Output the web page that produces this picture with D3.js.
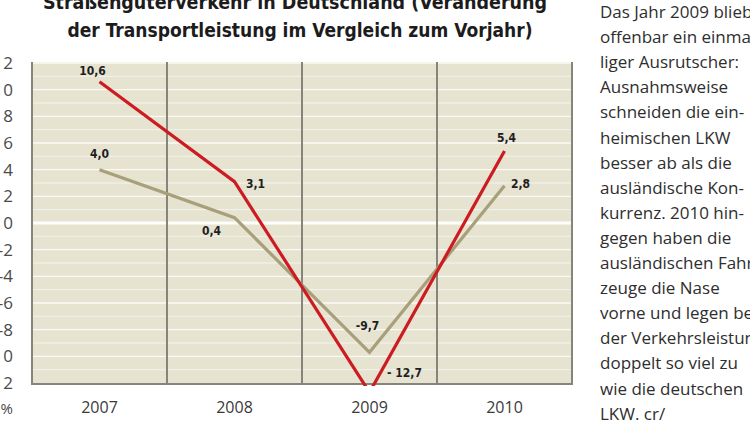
<!DOCTYPE html>
<html>
<head>
<meta charset="utf-8">
<script src="https://cdn.jsdelivr.net/npm/d3@7"></script>
<style>
    body { margin: 0; background: #fff; }
    svg { display: block; }
</style>
</head>
<body>
<svg width="750" height="422"></svg>
<script>
// Chart data.
var years = ["2007", "2008", "2009", "2010"];
var auslaendisch = [10.6, 3.1, -12.7, 5.4];
var deutsch = [4.0, 0.4, -9.7, 2.8];
var yTicks = [12, 10, 8, 6, 4, 2, 0, -2, -4, -6, -8, -10, -12];

var titleLines = [
    "Straßengüterverkehr in Deutschland (Veränderung",
    "der Transportleistung im Vergleich zum Vorjahr)"
];

var sideText = [
    "Das Jahr 2009 blieb",
    "offenbar ein einma-",
    "liger Ausrutscher:",
    "Ausnahmsweise",
    "schneiden die ein-",
    "heimischen LKW",
    "besser ab als die",
    "ausländische Kon-",
    "kurrenz. 2010 hin-",
    "gegen haben die",
    "ausländischen Fahr-",
    "zeuge die Nase",
    "vorne und legen bei",
    "der Verkehrsleistung",
    "doppelt so viel zu",
    "wie die deutschen",
    "LKW. cr/"
];

var svg = d3.select("svg");
// Note: "top" is a read-only window property, so use other names.
var plotLeft = 32, plotRight = 572, plotTop = 62, plotBottom = 384;

var x = d3.scaleBand().domain(years).range([plotLeft, plotRight]).padding(0);
var y = d3.scaleLinear().domain([-12, 12]).range([383, 63]);

function fmt(v, gap) {
    return (v < 0 ? "-" + gap : "") + Math.abs(v).toFixed(1).replace(".", ",");
}

// Plot background.
svg.append("rect")
    .attr("x", plotLeft).attr("y", plotTop)
    .attr("width", plotRight - plotLeft).attr("height", plotBottom - plotTop)
    .attr("fill", "#e6e3d1");

// White grid lines, one per unit, even ones a bit stronger.
svg.append("g").selectAll("line")
    .data(d3.range(-11, 13))
    .join("line")
    .attr("x1", plotLeft).attr("x2", plotRight)
    .attr("y1", function(d) { return y(d); })
    .attr("y2", function(d) { return y(d); })
    .attr("stroke", "#fff")
    .attr("stroke-opacity", function(d) { return d == 0 ? 0.95 : (d % 2 == 0 ? 0.8 : 0.45); })
    .attr("stroke-width", function(d) { return d == 0 ? 3 : 1.3; });

// Column separators and frame.
var edges = years.map(function(d) { return x(d); }).concat([plotRight]);
svg.append("g").selectAll("line")
    .data(edges)
    .join("line")
    .attr("x1", function(d) { return d; }).attr("x2", function(d) { return d; })
    .attr("y1", plotTop).attr("y2", plotBottom)
    .attr("stroke", "#85857a")
    .attr("stroke-width", 2);

svg.append("line")
    .attr("x1", plotLeft - 1).attr("x2", plotRight + 1)
    .attr("y1", plotBottom).attr("y2", plotBottom)
    .attr("stroke", "#85857a")
    .attr("stroke-width", 2);

// Clip lines to the plot area (a little below the frame so the tip shows).
svg.append("clipPath").attr("id", "plot")
    .append("rect")
    .attr("x", plotLeft).attr("y", plotTop)
    .attr("width", plotRight - plotLeft).attr("height", plotBottom - plotTop + 2);

var line = d3.line()
    .x(function(d, i) { return x(years[i]) + x.bandwidth() / 2; })
    .y(function(d) { return y(d); });

var series = [
    { values: deutsch, color: "#a89f7b", gap: "", nudge: [[0, -16], [-23, 13], [-2, -27], [16, -2]] },
    { values: auslaendisch, color: "#cc1c22", gap: " ", nudge: [[-7, -11], [21, 2], [35, -11], [2, -13]] }
];

series.forEach(function(s) {
    svg.append("path")
        .datum(s.values)
        .attr("clip-path", "url(#plot)")
        .attr("fill", "none")
        .attr("stroke", s.color)
        .attr("stroke-width", 3.2)
        .attr("stroke-linejoin", "miter")
        .attr("d", line);

    // Value labels next to each point.
    svg.append("g").selectAll("text")
        .data(s.values)
        .join("text")
        .attr("x", function(d, i) { return x(years[i]) + x.bandwidth() / 2 + s.nudge[i][0]; })
        .attr("y", function(d, i) { return Math.min(y(d), plotBottom) + s.nudge[i][1]; })
        .attr("dy", "0.35em")
        .attr("text-anchor", "middle")
        .attr("font-family", "'Liberation Sans Narrow', 'DejaVu Sans Condensed', sans-serif")
        .attr("font-weight", "bold")
        .attr("font-size", 12)
        .attr("fill", "#1e1e1e")
        .text(function(d) { return fmt(d, s.gap); });
});

// Y axis labels, cut by the left edge like in the print.
var yAxis = svg.append("g")
    .attr("transform", "translate(13,0)")
    .call(d3.axisLeft(y).tickValues(yTicks).tickSize(0).tickPadding(0)
        .tickFormat(function(d) { return String(d); }));
yAxis.select(".domain").remove();
yAxis.selectAll("text")
    .attr("font-family", "'Open Sans', sans-serif")
    .attr("font-size", 17)
    .attr("fill", "#4a4a4a");

svg.append("text")
    .attr("x", 13).attr("y", 414)
    .attr("text-anchor", "end")
    .attr("font-family", "'Open Sans', sans-serif")
    .attr("font-size", 15)
    .attr("fill", "#4a4a4a")
    .text("%");

// X axis labels.
var xAxis = svg.append("g")
    .attr("transform", "translate(0," + plotBottom + ")")
    .call(d3.axisBottom(x).tickSize(0).tickPadding(18));
xAxis.select(".domain").remove();
xAxis.selectAll("text")
    .attr("font-family", "'Open Sans', sans-serif")
    .attr("font-size", 16)
    .attr("fill", "#3a3a3a");

// Title, two lines, the first cut at the top.
var titleSpan = [[295, 9, 504], [300, 37, 465]];
svg.append("g").selectAll("text")
    .data(titleLines)
    .join("text")
    .attr("x", function(d, i) { return titleSpan[i][0]; })
    .attr("y", function(d, i) { return titleSpan[i][1]; })
    .attr("text-anchor", "middle")
    .attr("textLength", function(d, i) { return titleSpan[i][2]; })
    .attr("lengthAdjust", "spacingAndGlyphs")
    .attr("font-family", "'Liberation Sans Narrow', 'DejaVu Sans Condensed', sans-serif")
    .attr("font-weight", "bold")
    .attr("font-size", 20)
    .attr("fill", "#1c1c1c")
    .text(function(d) { return d; });

// Running text on the right.
svg.append("g").selectAll("text")
    .data(sideText)
    .join("text")
    .attr("x", 600)
    .attr("y", function(d, i) { return 18 + i * 25.1; })
    .attr("font-family", "'Open Sans', sans-serif")
    .attr("font-size", 17)
    .attr("fill", "#2e2e2e")
    .text(function(d) { return d; });
</script>
</body>
</html>
